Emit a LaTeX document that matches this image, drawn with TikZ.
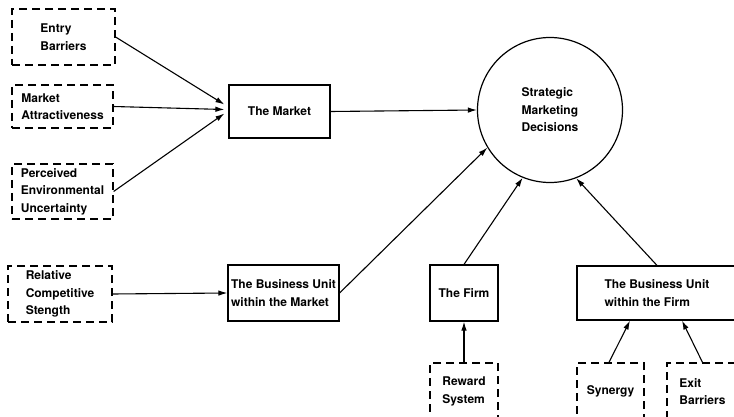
\documentclass[tikz,border=0pt]{standalone}
\usepackage{fontspec}
\setmainfont{TeX Gyre Heros}
\usetikzlibrary{arrows.meta,shapes.geometric}
\begin{document}
\begin{tikzpicture}[x=1pt,y=-1pt,
  lbl/.style={font=\bfseries\fontsize{12}{17.5}\selectfont, align=left},
  solidbox/.style={draw, line width=1.2pt, rectangle, inner sep=0pt, lbl},
  dashbox/.style={draw, line width=1.2pt, dash pattern=on 8pt off 5pt, rectangle, inner sep=0pt, lbl},
  arr/.style={line width=1.1pt, -{Latex[length=9pt,width=5.5pt]}}]
\useasboundingbox (0,0) rectangle (734,417);
% dashed input boxes
\node[dashbox, minimum width=103, minimum height=56] (eb) at (63.5,37) {Entry\\Barriers};
\node[dashbox, minimum width=101, minimum height=43] (ma) at (62.5,106.5) {Market\\Attractiveness};
\node[dashbox, minimum width=101, minimum height=55] (pe) at (62.5,191.5) {Perceived\\Environmental\\Uncertainty};
\node[dashbox, minimum width=104, minimum height=56] (rc) at (60,294) {Relative\\Competitive\\Stength};
\node[dashbox, minimum width=68, minimum height=57] (rs) at (464,391.5) {Reward\\System};
\node[dashbox, minimum width=67, minimum height=57] (sy) at (610.5,391.5) {Synergy};
\node[dashbox, minimum width=71, minimum height=57] (ex) at (702.5,391.5) {Exit\\Barriers};
% solid boxes
\node[solidbox, minimum width=101, minimum height=53] (mk) at (279.5,111.5) {The Market};
\node[solidbox, minimum width=111, minimum height=56] (bum) at (283.5,293) {The Business Unit\\within the Market};
\node[solidbox, minimum width=68, minimum height=56] (firm) at (464,293) {The Firm};
\node[solidbox, minimum width=160, minimum height=54] (buf) at (657,293) {The Business Unit\\within the Firm};
% decision circle
\node[draw, circle, line width=1.2pt, minimum size=145, inner sep=0pt, lbl] (sm) at (550,110) {Strategic\\Marketing\\Decisions};
% connectors
\draw[arr] (eb.east) -- ([shift={(-4,-7)}]mk.west);
\draw[arr] (ma.east) -- ([shift={(-4,-2)}]mk.west);
\draw[arr] (pe.east) -- ([shift={(-4,2)}]mk.west);
\draw[arr] (mk.east) -- (sm.west);
\draw[arr] (rc.east) -- (bum.west);
\draw[arr] (bum.east) -- (sm.211);
\draw[arr] (firm.north) -- (sm.248);
\draw[arr] (buf.north) -- (sm.291);
\draw[arr] (rs.north) -- (firm.south);
\draw[arr] ([xshift=-1.5]sy.north) -- ([xshift=-27]buf.south);
\draw[arr] (ex.north) -- ([xshift=25]buf.south);
\end{tikzpicture}
\end{document}
